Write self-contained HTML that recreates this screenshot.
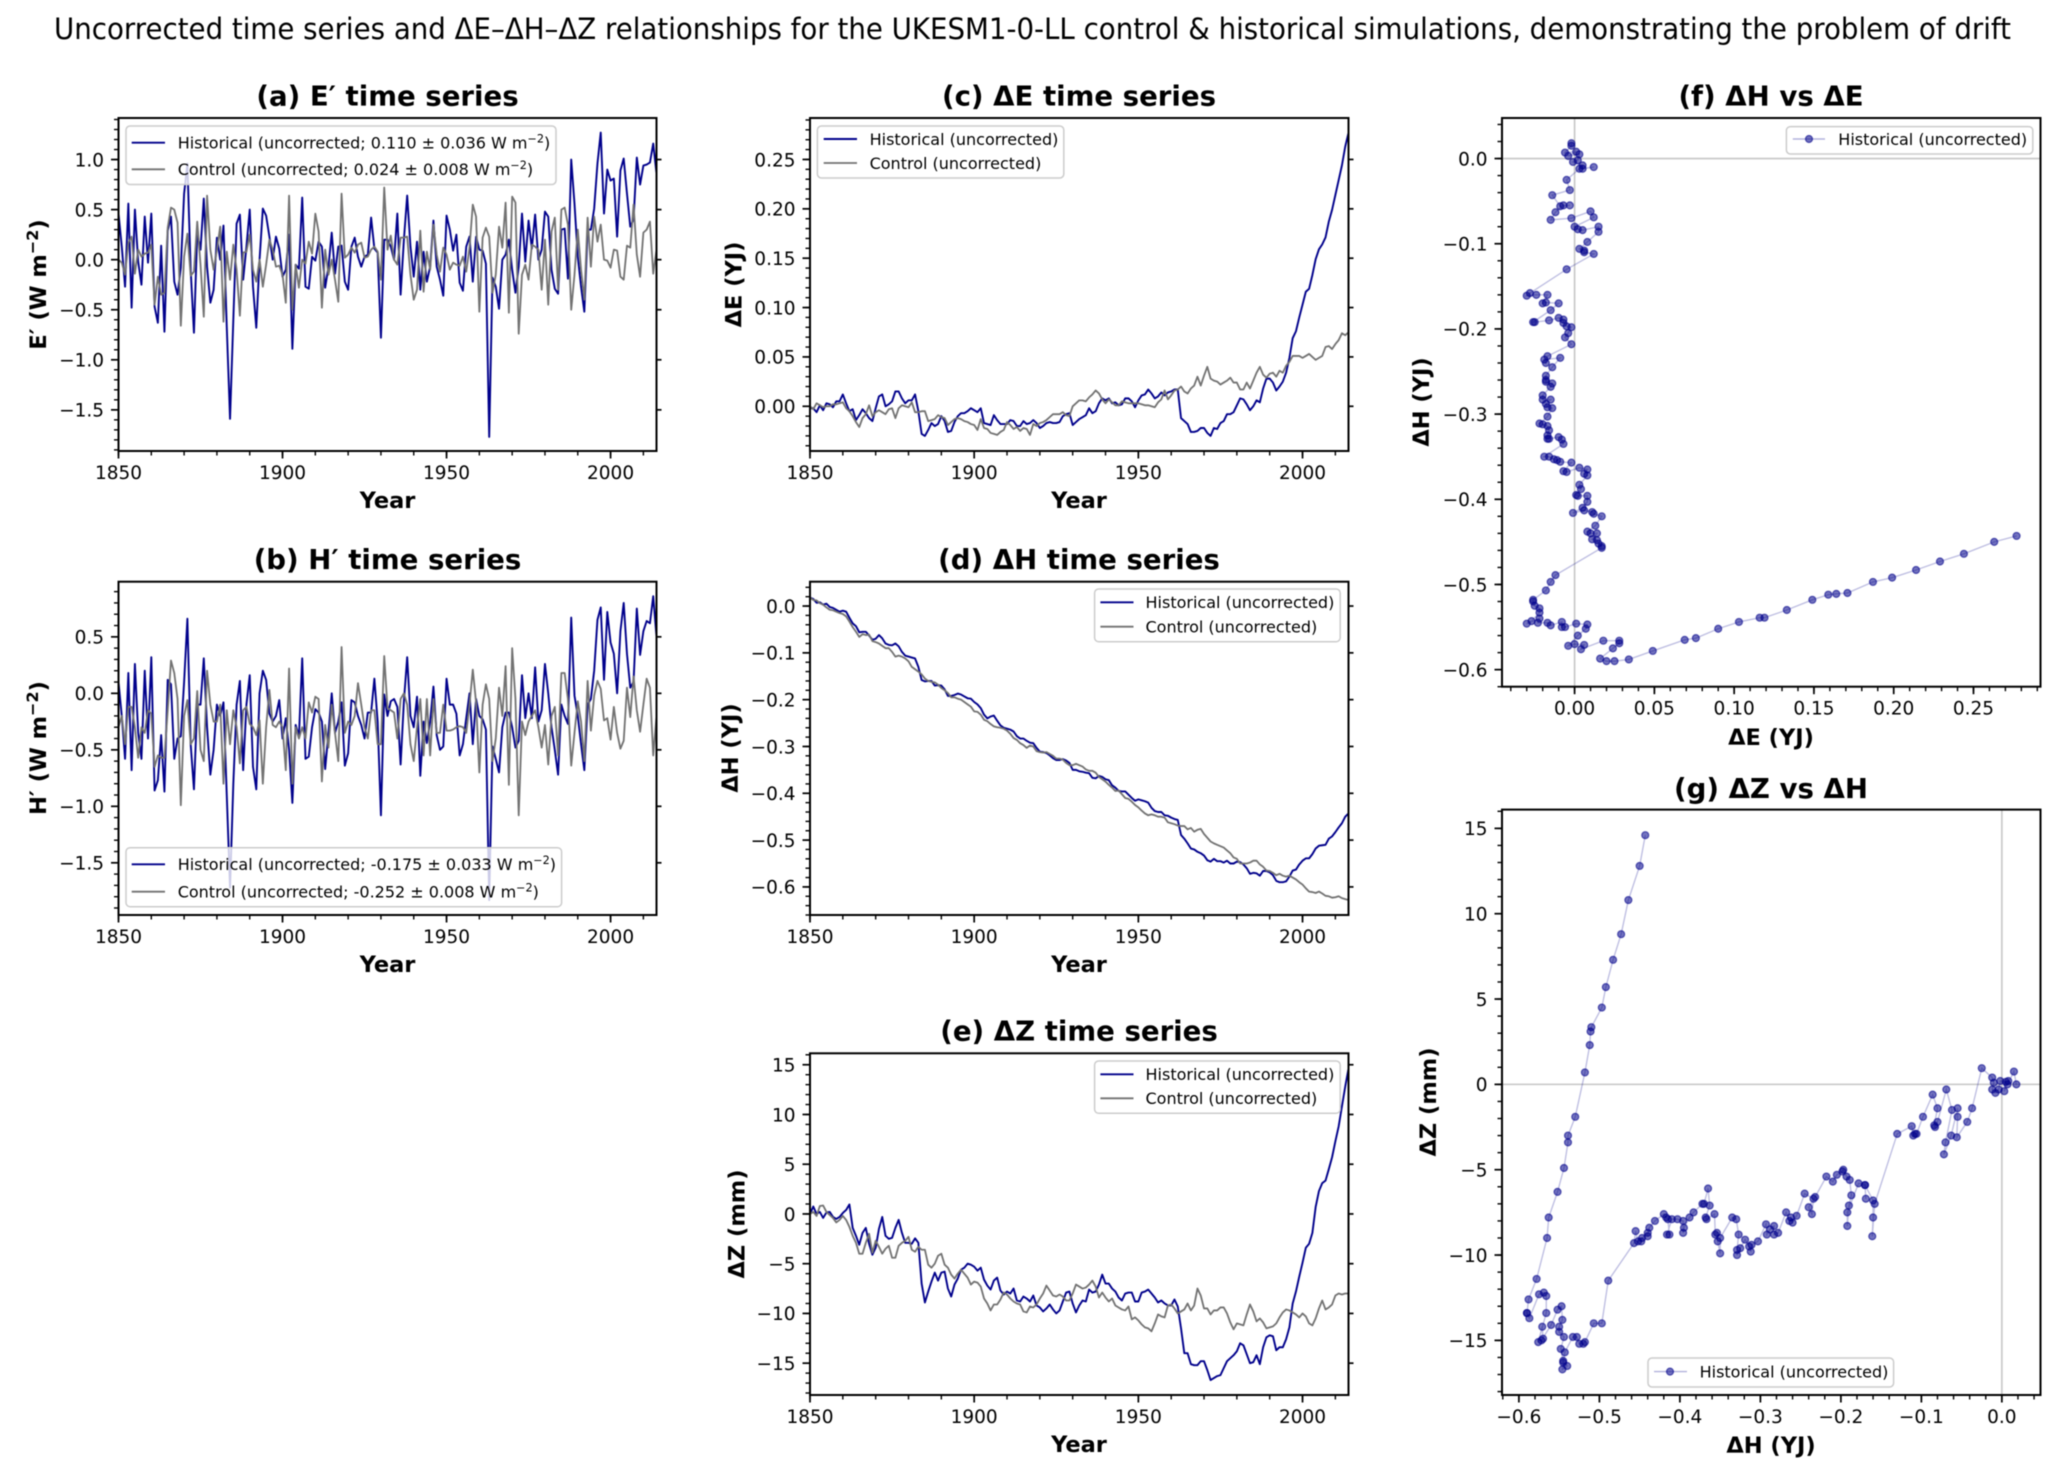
<!DOCTYPE html>
<html lang="en">
<head>
<meta charset="utf-8">
<title>UKESM1-0-LL drift figure</title>
<style>
html,body{margin:0;padding:0;background:#fff;}
svg{display:block;font-family:"DejaVu Sans","Liberation Sans",sans-serif;filter:blur(0.5px);}
.ttl{font-size:27.6px;font-weight:bold;text-anchor:middle;fill:#000;}
.lab{font-size:22.5px;font-weight:bold;text-anchor:middle;fill:#000;}
.tick{font-size:18.5px;fill:#000;}
.leg{font-size:16px;fill:#000;}
.box{fill:rgba(255,255,255,.8);stroke:#ccc;stroke-width:1.5;}
.hist{stroke:#00008b;stroke-width:1.9;fill:none;}
.ctrl{stroke:#727272;stroke-width:1.8;fill:none;}
</style>
</head>
<body>
<svg id="chart" xmlns="http://www.w3.org/2000/svg" width="2067" height="1475" viewBox="0 0 2067 1475">
<rect width="2067" height="1475" fill="#fff"/>
<text x="1032.5" y="39" font-size="29" text-anchor="middle" textLength="1957" lengthAdjust="spacingAndGlyphs">Uncorrected time series and ΔE–ΔH–ΔZ relationships for the UKESM1-0-LL control &amp; historical simulations, demonstrating the problem of drift</text>

<g id="plots"></g>

<text class="ttl" x="387.5" y="105.5">(a) E′ time series</text>
<text class="ttl" x="387.5" y="569">(b) H′ time series</text>
<text class="ttl" x="1079" y="105.5">(c) ΔE time series</text>
<text class="ttl" x="1079" y="569">(d) ΔH time series</text>
<text class="ttl" x="1079" y="1040.5">(e) ΔZ time series</text>
<text class="ttl" x="1771" y="105.5">(f) ΔH vs ΔE</text>
<text class="ttl" x="1771" y="798">(g) ΔZ vs ΔH</text>

<text class="lab" x="387.5" y="508">Year</text>
<text class="lab" x="387.5" y="972">Year</text>
<text class="lab" x="1079" y="508">Year</text>
<text class="lab" x="1079" y="972">Year</text>
<text class="lab" x="1079" y="1452">Year</text>
<text class="lab" x="1771" y="745">ΔE (YJ)</text>
<text class="lab" x="1771" y="1453">ΔH (YJ)</text>

<text class="lab" transform="translate(46 284.5) rotate(-90)">E′ (W m<tspan dy="-8" font-size="16">−2</tspan><tspan dy="8">)</tspan></text>
<text class="lab" transform="translate(46 748) rotate(-90)">H′ (W m<tspan dy="-8" font-size="16">−2</tspan><tspan dy="8">)</tspan></text>
<text class="lab" transform="translate(741.5 284.5) rotate(-90)">ΔE (YJ)</text>
<text class="lab" transform="translate(738 748) rotate(-90)">ΔH (YJ)</text>
<text class="lab" transform="translate(744.5 1224) rotate(-90)">ΔZ (mm)</text>
<text class="lab" transform="translate(1429 402) rotate(-90)">ΔH (YJ)</text>
<text class="lab" transform="translate(1436 1102) rotate(-90)">ΔZ (mm)</text>

<g>
<rect class="box" x="126" y="126" width="430" height="58.5" rx="4"/>
<line class="hist" x1="131.7" x2="165" y1="142.7" y2="142.7"/>
<text class="leg" x="177.7" y="148.5">Historical (uncorrected; 0.110 ± 0.036 W m<tspan dy="-6" font-size="11.2">−2</tspan><tspan dy="6">)</tspan></text>
<line class="ctrl" x1="131.7" x2="165" y1="169.3" y2="169.3"/>
<text class="leg" x="177.7" y="175">Control (uncorrected; 0.024 ± 0.008 W m<tspan dy="-6" font-size="11.2">−2</tspan><tspan dy="6">)</tspan></text>
</g>
<g>
<rect class="box" x="126" y="847.7" width="435.6" height="59" rx="4"/>
<line class="hist" x1="131.7" x2="165" y1="864.3" y2="864.3"/>
<text class="leg" x="177.7" y="870">Historical (uncorrected; -0.175 ± 0.033 W m<tspan dy="-6" font-size="11.2">−2</tspan><tspan dy="6">)</tspan></text>
<line class="ctrl" x1="131.7" x2="165" y1="891.7" y2="891.7"/>
<text class="leg" x="177.7" y="897.4">Control (uncorrected; -0.252 ± 0.008 W m<tspan dy="-6" font-size="11.2">−2</tspan><tspan dy="6">)</tspan></text>
</g>
<g>
<rect class="box" x="817.4" y="126" width="246.4" height="52" rx="4"/>
<line class="hist" x1="823.7" x2="857" y1="139" y2="139"/>
<text class="leg" x="869.6" y="144.8">Historical (uncorrected)</text>
<line class="ctrl" x1="823.7" x2="857" y1="163" y2="163"/>
<text class="leg" x="869.6" y="168.8">Control (uncorrected)</text>
</g>
<g>
<rect class="box" x="1094.6" y="589" width="245.6" height="52.7" rx="4"/>
<line class="hist" x1="1100.4" x2="1133.5" y1="602.3" y2="602.3"/>
<text class="leg" x="1145.5" y="608">Historical (uncorrected)</text>
<line class="ctrl" x1="1100.4" x2="1133.5" y1="626.7" y2="626.7"/>
<text class="leg" x="1145.5" y="632.4">Control (uncorrected)</text>
</g>
<g>
<rect class="box" x="1094.6" y="1061" width="245.6" height="52.3" rx="4"/>
<line class="hist" x1="1100.4" x2="1133.5" y1="1074.3" y2="1074.3"/>
<text class="leg" x="1145.5" y="1080">Historical (uncorrected)</text>
<line class="ctrl" x1="1100.4" x2="1133.5" y1="1098.3" y2="1098.3"/>
<text class="leg" x="1145.5" y="1104">Control (uncorrected)</text>
</g>
<g>
<rect class="box" x="1786.4" y="126.6" width="246.4" height="27.4" rx="4"/>
<line x1="1792.8" x2="1825" y1="139" y2="139" stroke="rgba(0,0,139,.3)" stroke-width="1.4"/>
<circle cx="1809" cy="139" r="3.5" fill="rgba(0,0,139,.55)" stroke="rgba(0,0,139,.6)" stroke-width="1.2"/>
<text class="leg" x="1838.3" y="144.8">Historical (uncorrected)</text>
</g>
<g>
<rect class="box" x="1648" y="1358" width="245.6" height="29" rx="4"/>
<line x1="1654" x2="1687" y1="1371.6" y2="1371.6" stroke="rgba(0,0,139,.3)" stroke-width="1.4"/>
<circle cx="1670" cy="1371.6" r="3.5" fill="rgba(0,0,139,.55)" stroke="rgba(0,0,139,.6)" stroke-width="1.2"/>
<text class="leg" x="1699.6" y="1377.3">Historical (uncorrected)</text>
</g>
</svg>

<script>
const firstYear = 1850;

const ePrimeHist = [
.46,.13,-.27,.56,-.48,.50,-.02,-.25,.43,-.03,
.46,-.47,-.63,.14,-.72,.29,.43,-.22,-.35,-.08,
.66,.96,-.1,-.73,.26,.1,.61,-.07,-.43,-.30,
.22,0,.34,-.67,-1.59,-.6,.36,.45,-.2,.13,
.5,-.27,-.68,0,.51,.44,.23,0,.23,.11,
-.17,-.1,.25,-.89,-.05,-.09,.62,-.27,-.29,.03,
-.01,.18,.13,-.28,-.07,.27,-.14,.13,.14,-.22,
-.3,.13,.22,.03,-.07,.03,.05,.42,.11,.07,
-.78,.2,.2,.13,0,.46,-.35,.2,.64,.13,
-.17,.18,-.3,.08,-.22,-.07,.39,-.07,-.2,-.36,
.44,.3,.09,.25,-.23,-.31,.13,.23,-.22,.23,
.1,.09,-.04,-1.77,-.18,-.27,-.49,0,.05,.2,
-.1,-.33,-.07,.46,-.02,.39,.11,.45,0,.1,
.48,.43,-.1,-.29,-.34,.3,.31,-.19,1.0,.56,
.03,-.27,-.52,.3,.3,.51,.96,1.27,.46,.9,
.79,.81,.23,.89,1.01,.66,.33,.4,1.02,.75,
.94,.95,.97,1.16,.86];

const ePrimeCtrl = [
0,-.03,-.15,.17,.23,-.14,.1,.03,.06,.07,
.15,-.45,-.17,-.35,-.33,.32,.52,.5,.37,-.66,
.03,.26,-.16,-.12,.38,-.05,-.57,.64,.1,-.1,
.1,.33,-.62,.08,-.2,.15,-.1,-.56,.07,.08,
.25,-.1,-.22,0,-.27,-.05,.2,.1,-.07,-.06,
-.15,-.43,.64,-.5,-.05,-.28,0,-.04,.18,.06,
.46,.28,-.48,.1,-.15,0,-.2,-.42,.66,.02,
.05,.12,.07,.15,.17,.02,.03,.1,.13,.08,
-.2,.72,.1,.24,0,-.05,.22,.22,.23,-.15,
-.4,-.3,.29,-.32,.08,-.1,.35,.05,-.12,.12,
.05,-.1,-.03,-.05,-.06,.03,-.12,.12,.55,.43,
-.52,.22,.32,.23,-.33,-.15,.33,.12,.57,-.53,
.63,.57,-.74,-.15,-.05,-.2,.15,.13,.1,-.3,
.2,-.45,.28,.42,-.3,.5,.52,.35,-.5,-.15,
.3,-.1,-.4,.42,-.07,.43,.18,.35,0,-.01,
-.08,.1,.09,-.17,-.2,.14,.12,.55,.05,-.17,
.27,.3,.38,-.14,.1];

const hPrimeHist = [
.1,-.2,-.58,.18,-.68,.26,-.35,-.58,.2,-.4,
.32,-.86,-.77,-.37,-.87,.12,.08,-.58,-.4,-.38,
.1,.66,-.45,-.85,-.1,-.1,.31,-.3,-.72,-.5,
-.1,-.2,-.08,-.9,-1.72,-.8,-.1,.11,-.68,-.1,
.16,-.65,-.85,0,.2,.12,-.18,-.25,-.2,-.06,
-.4,-.22,-.5,-.97,-.28,-.38,.31,-.58,-.56,-.3,
-.14,-.17,-.25,-.67,-.35,0,-.35,-.25,-.08,-.64,
-.53,-.06,-.08,-.2,-.28,-.4,-.17,-.17,.13,-.25,
-1.08,-.01,-.2,-.07,-.05,-.12,-.63,-.07,.32,-.2,
-.3,-.03,-.73,-.25,-.44,-.25,.06,-.37,-.5,-.47,
.13,-.1,-.1,-.18,-.55,-.45,-.22,0,-.45,-.05,
-.2,-.23,-.32,-1.83,-.47,-.58,-.7,-.3,-.17,-.17,
-.3,-.48,-.42,.16,-.22,0,-.22,.23,-.25,-.15,
.26,0,-.3,-.5,-.72,-.1,-.2,-.27,.67,-.02,
-.2,-.45,-.68,-.1,-.05,.2,.65,.76,.12,.72,
.45,.35,0,.55,.8,.35,.05,.1,.75,.34,
.55,.64,.62,.86,.5];

const hPrimeCtrl = [
-.3,-.2,-.45,-.12,-.12,-.3,-.57,-.3,-.35,-.15,
-.18,-.65,-.55,-.57,-.57,-.15,.29,.18,-.05,-.99,
-.2,-.06,-.45,-.4,.02,-.5,-.6,.2,-.1,-.25,
-.25,-.1,-.8,-.15,-.45,-.15,-.3,-.62,-.15,-.12,
-.27,-.3,-.37,-.24,-.8,-.3,.03,-.28,-.3,-.25,
-.3,-.68,.22,-.8,-.3,-.4,-.3,-.4,-.08,-.17,
-.03,-.05,-.78,-.28,-.48,-.1,-.35,-.6,.41,-.35,
-.25,-.28,-.2,.09,-.1,-.3,-.4,-.15,-.15,-.45,
-.45,.33,-.13,-.15,-.17,-.4,-.05,0,-.1,-.45,
-.6,-.3,-.05,-.55,-.05,-.55,-.05,-.35,-.35,-.1,
-.33,-.33,-.32,-.3,-.29,-.3,-.35,-.1,.21,-.08,
-.7,-.1,.08,-.05,-.6,-.4,.05,-.2,.24,-.81,
.4,-.05,-1.08,-.25,-.37,-.25,-.2,-.15,-.3,-.48,
-.28,-.63,-.2,-.12,-.55,.18,.18,-.05,-.64,-.35,
-.07,-.25,-.6,.11,-.33,-.02,.11,.04,-.24,-.22,
-.41,-.12,-.35,-.49,-.42,.05,-.21,.15,-.15,-.34,
-.1,.13,.05,-.55,-.2];

const deltaEHist = [
-.002,-.002,-.006,.001,-.004,.003,.002,-.001,.005,.005,
.012,.003,-.005,-.003,-.014,-.009,-.003,-.007,-.012,-.015,
-.002,.010,.012,0,.002,.005,.015,.015,.008,.003,
.006,.006,.012,-.005,-.028,-.03,-.024,-.017,-.02,-.018,
-.01,-.015,-.026,-.025,-.016,-.01,-.007,-.007,-.005,-.002,
-.004,-.006,-.002,-.017,-.018,-.019,-.009,-.014,-.018,-.018,
-.018,-.014,-.015,-.02,-.02,-.015,-.018,-.017,-.014,-.017,
-.022,-.02,-.017,-.016,-.017,-.017,-.016,-.01,-.008,-.007,
-.019,-.016,-.013,-.011,-.009,-.002,-.007,-.005,.003,.008,
.006,.008,.003,.004,.001,.002,.008,.008,.005,-.001,
.006,.011,.012,.017,.013,.008,.01,.014,.011,.014,
.015,.017,.017,-.012,-.015,-.018,-.026,-.026,-.025,-.022,
-.022,-.027,-.03,-.022,-.023,-.017,-.015,-.008,-.008,-.006,
.001,.008,.007,.002,-.004,0,.006,.004,.018,.028,
.028,.024,.016,.02,.025,.034,.049,.069,.076,.09,
.103,.116,.119,.133,.149,.159,.164,.171,.187,.199,
.214,.229,.244,.263,.277];

const deltaECtrl = [
0,-.003,.003,.001,-.001,0,0,.002,.002,.003,
.004,-.002,-.005,-.01,-.016,-.021,-.012,-.008,.001,-.01,
-.006,-.004,-.006,-.008,-.003,-.002,-.012,-.002,.001,0,
-.001,.004,-.006,-.006,-.005,-.005,-.015,-.014,-.013,-.009,
-.011,-.012,-.019,-.016,-.013,-.012,-.013,-.015,-.016,-.018,
-.019,-.024,-.013,-.022,-.023,-.027,-.028,-.029,-.026,-.024,
-.016,-.019,-.023,-.021,-.025,-.022,-.023,-.029,-.018,-.02,
-.017,-.016,-.014,-.011,-.008,-.008,-.008,-.006,-.009,-.01,
0,.003,.006,.006,.005,.009,.012,.016,.013,.007,
.003,.007,.004,.001,.001,.005,.004,.003,.003,.003,
.003,.002,.001,.001,0,-.001,.004,.007,.016,.007,
.011,.016,.017,.02,.015,.013,.018,.021,.03,.021,
.031,.04,.028,.026,.025,.022,.024,.026,.029,.024,
.024,.017,.017,.024,.018,.026,.034,.04,.032,.029,
.033,.034,.03,.036,.034,.041,.045,.051,.051,.051,
.049,.051,.053,.05,.047,.049,.051,.06,.061,.058,
.063,.067,.074,.072,.075];

const deltaHHist = [
.018,.015,.007,.008,.003,.005,-.002,-.004,-.008,-.012,
-.01,-.012,-.025,-.037,-.043,-.056,-.055,-.055,-.063,-.072,
-.07,-.062,-.069,-.08,-.083,-.084,-.08,-.086,-.098,-.106,
-.108,-.11,-.112,-.13,-.158,-.161,-.16,-.16,-.17,-.169,
-.17,-.178,-.192,-.192,-.19,-.187,-.189,-.193,-.197,-.198,
-.205,-.21,-.218,-.232,-.24,-.236,-.234,-.245,-.255,-.26,
-.262,-.264,-.268,-.278,-.283,-.283,-.288,-.292,-.293,-.303,
-.311,-.312,-.314,-.319,-.325,-.329,-.329,-.327,-.33,-.335,
-.35,-.35,-.353,-.354,-.356,-.357,-.367,-.368,-.363,-.365,
-.37,-.372,-.383,-.388,-.395,-.396,-.396,-.403,-.41,-.416,
-.413,-.415,-.417,-.42,-.431,-.438,-.44,-.44,-.447,-.448,
-.452,-.455,-.457,-.489,-.497,-.507,-.518,-.52,-.525,-.528,
-.533,-.543,-.546,-.54,-.545,-.545,-.548,-.544,-.55,-.55,
-.546,-.547,-.552,-.56,-.572,-.57,-.571,-.576,-.566,-.566,
-.569,-.575,-.587,-.59,-.59,-.588,-.578,-.565,-.563,-.552,
-.544,-.539,-.539,-.53,-.518,-.512,-.511,-.51,-.497,-.492,
-.483,-.473,-.464,-.45,-.443];

const deltaHCtrl = [
.018,.013,.012,.006,.003,-.003,-.008,-.009,-.012,-.015,
-.017,-.022,-.033,-.045,-.055,-.066,-.06,-.062,-.061,-.075,
-.077,-.08,-.085,-.09,-.09,-.098,-.108,-.106,-.108,-.112,
-.118,-.13,-.135,-.14,-.146,-.155,-.16,-.162,-.163,-.168,
-.175,-.18,-.186,-.195,-.195,-.198,-.2,-.205,-.21,-.215,
-.225,-.226,-.232,-.243,-.246,-.252,-.257,-.259,-.26,-.262,
-.266,-.273,-.282,-.286,-.293,-.297,-.303,-.298,-.3,-.31,
-.312,-.313,-.312,-.316,-.32,-.326,-.326,-.328,-.335,-.34,
-.34,-.337,-.34,-.343,-.349,-.352,-.352,-.356,-.365,-.37,
-.375,-.382,-.388,-.395,-.394,-.402,-.41,-.412,-.418,-.425,
-.43,-.437,-.443,-.447,-.445,-.447,-.45,-.45,-.452,-.462,
-.464,-.466,-.469,-.47,-.47,-.477,-.474,-.482,-.478,-.476,
-.487,-.495,-.503,-.507,-.51,-.513,-.516,-.522,-.528,-.537,
-.54,-.55,-.55,-.55,-.548,-.544,-.544,-.552,-.557,-.565,
-.566,-.57,-.575,-.572,-.576,-.578,-.576,-.58,-.584,-.59,
-.595,-.603,-.61,-.611,-.613,-.61,-.614,-.619,-.62,-.623,
-.622,-.62,-.624,-.626,-.628];

const deltaZHist = [
0,.75,0,.2,-.4,.15,.2,-.3,-.5,-.3,
.1,.4,.95,-1.4,-2.2,-3.1,-1.9,-1.4,-3,-4.1,
-3.4,-1.5,-.3,-2.2,-2.5,-2.4,-1.4,-.6,-1.9,-2.9,
-2.9,-3,-2.45,-2.9,-7,-8.9,-7.8,-6.8,-5.9,-6.7,
-5.9,-5.8,-7.5,-8.3,-7.1,-6.5,-5.6,-5.4,-5,-5.1,
-5.3,-5.7,-5.4,-6.6,-7.2,-7.6,-6.7,-6.4,-7.7,-8.1,
-7.8,-8,-7.5,-8.7,-8.8,-8.3,-8.5,-8.8,-8.2,-9.2,
-9.4,-9.8,-9.5,-9.1,-9.6,-10,-9.7,-8.8,-7.9,-7.8,
-9,-9.9,-9.2,-8.7,-8.8,-7.6,-7.9,-7.8,-7.1,-6.1,
-7,-7,-7.5,-7.8,-8.4,-8.7,-8,-7.9,-7.9,-8.8,
-8.8,-7.9,-7.8,-7.6,-8,-8.4,-8.9,-8.7,-9,-9.2,
-9.2,-8.6,-9.3,-11.5,-14,-14,-15.1,-15.2,-15.2,-14.8,
-14.8,-15.7,-16.7,-16.5,-16.3,-16.2,-15.5,-14.8,-14.5,-14.2,
-13.8,-13,-13.2,-14.1,-15,-14.9,-14.2,-15.1,-13.4,-12.4,
-12.2,-12.3,-13.7,-13.4,-13.4,-12.6,-11.4,-9,-7.8,-6.3,
-4.9,-3.4,-3,-1.9,.7,2.3,3.1,3.35,4.5,5.7,
7.3,8.8,10.8,12.8,14.6];

const deltaZCtrl = [
0,.2,-.2,.8,.85,.2,-.1,-.4,-.85,-.6,
-.2,-.6,-1.3,-2.2,-2.9,-4,-4,-2.9,-2,-3.9,
-2.7,-3.3,-4,-3.5,-3.2,-4.4,-4.4,-3.2,-2.9,-2.7,
-2.3,-3.6,-3.8,-3.3,-3.6,-3.6,-5.1,-5.4,-5,-4.2,
-4,-5.1,-5.4,-6.1,-6.5,-6,-5.6,-6,-6.4,-7.1,
-6.8,-6.9,-7.3,-8.5,-9,-9.7,-9.1,-9.1,-8.6,-7.9,
-8.1,-8.5,-8.8,-9,-9.1,-9.8,-9.9,-9.3,-9.4,-9.1,
-8.5,-8,-7.2,-7.7,-8.2,-8.3,-8.1,-8.3,-8.7,-8.7,
-8,-7.1,-7.3,-7.5,-7.4,-7.1,-6.7,-7.3,-8.4,-7.9,
-8.4,-8.8,-8.5,-9.2,-9.4,-9.6,-9.7,-9.3,-10.6,-10.4,
-10.7,-11.1,-11.4,-11.5,-11.8,-11,-10.1,-10.3,-10.4,-9.2,
-9.1,-9.5,-10,-9.8,-9.6,-9,-9.7,-9.2,-7.5,-8.2,
-9.5,-9.5,-10.1,-9.7,-9.7,-9.4,-9.4,-10,-10.9,-11.6,
-11,-11.1,-11.2,-10.1,-9.1,-9.8,-10.8,-10.5,-10.9,-11.5,
-11.4,-11.3,-11,-10.4,-9.9,-9.6,-9.7,-9.9,-10.1,-10.4,
-10,-10.3,-11,-11.2,-10.5,-9.5,-8.7,-9.6,-9.4,-9.1,
-8.2,-8,-8.1,-8,-8];

const yearTicks = [1850, 1900, 1950, 2000];
const yearTickLabels = ['1850', '1900', '1950', '2000'];
const aTicks = [-1.5, -1, -.5, 0, .5, 1];
const aTickLabels = ['−1.5', '−1.0', '−0.5', '0.0', '0.5', '1.0'];
const bTicks = [-1.5, -1, -.5, 0, .5];
const bTickLabels = ['−1.5', '−1.0', '−0.5', '0.0', '0.5'];
const energyTicks = [0, .05, .1, .15, .2, .25];
const energyTickLabels = ['0.00', '0.05', '0.10', '0.15', '0.20', '0.25'];
const heatTicks = [-.6, -.5, -.4, -.3, -.2, -.1, 0];
const heatTickLabels = ['−0.6', '−0.5', '−0.4', '−0.3', '−0.2', '−0.1', '0.0'];
const zTicks = [-15, -10, -5, 0, 5, 10, 15];
const zTickLabels = ['−15', '−10', '−5', '0', '5', '10', '15'];

const NS = 'http://www.w3.org/2000/svg';
const plots = document.getElementById('plots');

function node(tag, attrs, parent) {
  const e = document.createElementNS(NS, tag);
  for (const k in attrs) e.setAttribute(k, attrs[k]);
  parent.appendChild(e);
  return e;
}

function scale(d0, d1, r0, r1) {
  return function (v) { return r0 + (v - d0) / (d1 - d0) * (r1 - r0); };
}

function minorValues(lo, hi, step) {
  const out = [];
  const n0 = Math.ceil(lo / step - 1e-6);
  const n1 = Math.floor(hi / step + 1e-6);
  for (let n = n0; n <= n1; n++) out.push(n * step);
  return out;
}

function drawPanel(p) {
  const g = node('g', {}, plots);
  
  
  const x = scale(p.xlim[0], p.xlim[1], p.L, p.R);
  const y = scale(p.ylim[0], p.ylim[1], p.B, p.T);
  const clip = node('clipPath', { id: 'clip-' + p.name }, g);
  node('rect', { x: p.L, y: p.T, width: p.R - p.L, height: p.B - p.T }, clip);
  const data = node('g', { 'clip-path': 'url(#clip-' + p.name + ')' }, g);
  
  

  minorValues(p.xlim[0], p.xlim[1], p.xMinor).forEach(function (v) {
    const t = node('line', { x1: x(v), x2: x(v), y1: p.B, y2: p.B + 4.5, stroke: '#000', 'stroke-width': 1.4 }, g);
    
    
  });
  minorValues(p.ylim[0], p.ylim[1], p.yMinor).forEach(function (v) {
    const t = node('line', { x1: p.L - 4.5, x2: p.L, y1: y(v), y2: y(v), stroke: '#000', 'stroke-width': 1.4 }, g);
    
    
  });
  p.xTicks.forEach(function (v, i) {
    const t = node('line', { x1: x(v), x2: x(v), y1: p.B, y2: p.B + 7.5, stroke: '#000', 'stroke-width': 1.7 }, g);
    
    
    const l = node('text', { x: x(v), y: p.B + 28, 'text-anchor': 'middle', class: 'tick' }, g);
    
    
    l.textContent = p.xLabels[i];
  });
  p.yTicks.forEach(function (v, i) {
    const t = node('line', { x1: p.L - 7.5, x2: p.L, y1: y(v), y2: y(v), stroke: '#000', 'stroke-width': 1.7 }, g);
    
    
    if (p.rightTicks) {
      const r = node('line', { x1: p.R, x2: p.R + 5, y1: y(v), y2: y(v), stroke: '#000', 'stroke-width': 1.7 }, g);
      
      
    }
    const l = node('text', { x: p.L - 14.5, y: y(v) + 6.8, 'text-anchor': 'end', class: 'tick' }, g);
    
    
    l.textContent = p.yLabels[i];
  });
  const frame = node('rect', { x: p.L, y: p.T, width: p.R - p.L, height: p.B - p.T, fill: 'none', stroke: '#000', 'stroke-width': 2 }, g);
  
  
  return { x: x, y: y, data: data, p: p };
}

function drawSeries(ax, values, cls, name) {
  const pts = values.map(function (v, i) { return ax.x(firstYear + i).toFixed(2) + ',' + ax.y(v).toFixed(2); }).join(' ');
  const line = node('polyline', { points: pts, class: cls, 'stroke-linejoin': 'round' }, ax.data);
  
  
}

function drawPhase(ax, xs, ys, refX, refY) {
  const p = ax.p;
  const h = node('line', { x1: p.L, x2: p.R, y1: ax.y(refY), y2: ax.y(refY), stroke: '#c6c6c6', 'stroke-width': 1.6 }, ax.data);
  
  
  const v = node('line', { x1: ax.x(refX), x2: ax.x(refX), y1: p.T, y2: p.B, stroke: '#c6c6c6', 'stroke-width': 1.6 }, ax.data);
  
  
  const pts = xs.map(function (d, i) { return ax.x(d).toFixed(2) + ',' + ax.y(ys[i]).toFixed(2); }).join(' ');
  const path = node('polyline', { points: pts, fill: 'none', stroke: 'rgba(0,0,139,.25)', 'stroke-width': 1.4 }, ax.data);
  
  
  xs.forEach(function (d, i) {
    const c = node('circle', { cx: ax.x(d), cy: ax.y(ys[i]), r: 3.5, fill: 'rgba(0,0,139,.55)', stroke: 'rgba(0,0,139,.6)', 'stroke-width': 1.2 }, ax.data);
    
    
  });
}

const axA = drawPanel({ name: 'panel-a-e-prime', L: 118.5, R: 656.5, T: 118, B: 451, xlim: [1850, 2014], ylim: [-1.911, 1.415], xTicks: yearTicks, xLabels: yearTickLabels, yTicks: aTicks, yLabels: aTickLabels, xMinor: 10, yMinor: .1, rightTicks: true });
drawSeries(axA, ePrimeHist, 'hist', 'historical-line');
drawSeries(axA, ePrimeCtrl, 'ctrl', 'control-line');

const axB = drawPanel({ name: 'panel-b-h-prime', L: 118.5, R: 656.5, T: 581.7, B: 915, xlim: [1850, 2014], ylim: [-1.962, .988], xTicks: yearTicks, xLabels: yearTickLabels, yTicks: bTicks, yLabels: bTickLabels, xMinor: 10, yMinor: .1, rightTicks: true });
drawSeries(axB, hPrimeHist, 'hist', 'historical-line');
drawSeries(axB, hPrimeCtrl, 'ctrl', 'control-line');

const axC = drawPanel({ name: 'panel-c-delta-e', L: 810, R: 1348.5, T: 118, B: 451, xlim: [1850, 2014], ylim: [-.0453, .292], xTicks: yearTicks, xLabels: yearTickLabels, yTicks: energyTicks, yLabels: energyTickLabels, xMinor: 10, yMinor: .01, rightTicks: true });
drawSeries(axC, deltaEHist, 'hist', 'historical-line');
drawSeries(axC, deltaECtrl, 'ctrl', 'control-line');

const axD = drawPanel({ name: 'panel-d-delta-h', L: 810, R: 1348.5, T: 581.7, B: 915, xlim: [1850, 2014], ylim: [-.66, .052], xTicks: yearTicks, xLabels: yearTickLabels, yTicks: heatTicks, yLabels: heatTickLabels, xMinor: 10, yMinor: .02, rightTicks: true });
drawSeries(axD, deltaHHist, 'hist', 'historical-line');
drawSeries(axD, deltaHCtrl, 'ctrl', 'control-line');

const axE = drawPanel({ name: 'panel-e-delta-z', L: 810, R: 1348.5, T: 1053.3, B: 1395, xlim: [1850, 2014], ylim: [-18.2, 16.15], xTicks: yearTicks, xLabels: yearTickLabels, yTicks: zTicks, yLabels: zTickLabels, xMinor: 10, yMinor: 1, rightTicks: true });
drawSeries(axE, deltaZHist, 'hist', 'historical-line');
drawSeries(axE, deltaZCtrl, 'ctrl', 'control-line');

const axF = drawPanel({ name: 'panel-f-h-vs-e', L: 1502, R: 2040.5, T: 118, B: 686.7, xlim: [-.0455, .292], ylim: [-.62, .0476], xTicks: energyTicks, xLabels: energyTickLabels, yTicks: heatTicks, yLabels: heatTickLabels, xMinor: .01, yMinor: .02, rightTicks: false });
drawPhase(axF, deltaEHist, deltaHHist, 0, 0);

const axG = drawPanel({ name: 'panel-g-z-vs-h', L: 1502, R: 2040.5, T: 809.6, B: 1395, xlim: [-.621, .048], ylim: [-18.2, 16.1], xTicks: heatTicks, xLabels: heatTickLabels, yTicks: zTicks, yLabels: zTickLabels, xMinor: .02, yMinor: 1, rightTicks: false });
drawPhase(axG, deltaHHist, deltaZHist, 0, 0);
</script>
</body>
</html>
